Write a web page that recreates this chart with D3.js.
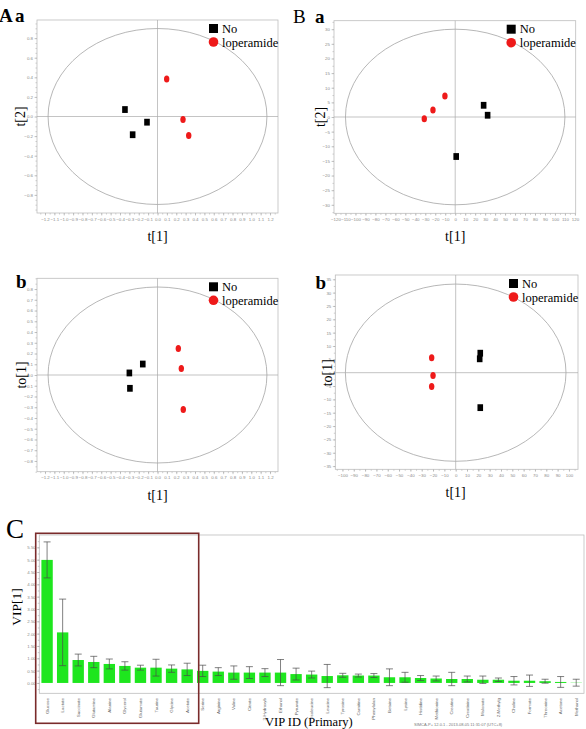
<!DOCTYPE html>
<html>
<head>
<meta charset="utf-8">
<script src="https://cdn.jsdelivr.net/npm/d3@7"></script>
<style>
  body { margin: 0; background: #fff; }
  svg { display: block; }
</style>
</head>
<body>
<svg id="fig" width="586" height="729"></svg>
<script>
// score plot points, [t1, t2] per sample
const aaNo = [[-0.347, 0.071], [-0.265, -0.186], [-0.112, -0.058]];
const aaLop = [[0.098, 0.383], [0.272, -0.030], [0.333, -0.193]];
const abNo = [[-0.300, 0.019], [-0.294, -0.124], [-0.157, 0.102]];
const abLop = [[0.222, 0.247], [0.254, 0.061], [0.275, -0.322]];
const baNo = [[28.5, 4.0], [32.5, 0.6], [1.0, -13.5]];
const baLop = [[-31.0, -0.6], [-22.3, 2.4], [-10.3, 7.2]];
const bbNo = [[21.7, 7.3], [21.2, 5.2], [21.7, -13.1]];
const bbLop = [[-21.2, 5.6], [-20.0, -1.1], [-21.2, -5.2]];

const groups = ["No", "loperamide"];

// VIP plot
const metabolites = ["Glucose", "Lactate", "Succinate", "Glutamine", "Alanine", "Glycerol",
    "Glutamate", "Taurine", "Glycine", "Acetate", "Serine", "Arginine", "Valine", "Citrate",
    "3-Hydroxyb", "Ethanol", "Pyruvate", "Isoleucine", "Leucine", "Tyrosine", "Carnitine",
    "Phenylalan", "Betaine", "Lysine", "Histidine", "Methionine", "Creatine", "Creatinine",
    "Malonate", "2-Methylg", "Choline", "Formate", "Threonine", "Acetone", "Methanol"];
const vipValues = [4.99, 2.05, 0.93, 0.85, 0.77, 0.69, 0.62, 0.62, 0.58, 0.55, 0.49, 0.46,
    0.42, 0.42, 0.42, 0.42, 0.36, 0.34, 0.28, 0.31, 0.30, 0.30, 0.23, 0.23, 0.20, 0.18,
    0.16, 0.16, 0.13, 0.13, 0.09, 0.09, 0.07, 0.04, 0.01];
const vipErrors = [0.73, 1.35, 0.24, 0.23, 0.20, 0.17, 0.10, 0.34, 0.15, 0.25, 0.23, 0.16,
    0.27, 0.24, 0.16, 0.53, 0.24, 0.14, 0.47, 0.08, 0.06, 0.08, 0.34, 0.20, 0.10, 0.10,
    0.27, 0.12, 0.15, 0.07, 0.17, 0.23, 0.08, 0.22, 0.14];
const vipTicks = [0, 0.5, 1, 1.5, 2, 2.5, 3, 3.5, 4, 4.5, 5, 5.5];

const svg = d3.select("#fig");
const serif = "'Liberation Serif', 'Times New Roman', serif";
const sans = "'Liberation Sans', Arial, sans-serif";
const red = "#ee1a1a";

const panels = [
    { letter: "A", sub: "a", letterBold: true, lx: -1, ax: 15, ly: 22,
      left: 37, right: 278, top: 20, bottom: 213,
      xDomain: [-1.285, 1.285], yDomain: [-0.985, 0.985], ellipse: [1.167, 0.898],
      xTicks: d3.range(-12, 13).map(v => v / 10), xFmt: d3.format(".1f"), xMinor: 0.05,
      yTicks: d3.range(-8, 9, 2).map(v => v / 10), yFmt: d3.format(".1f"), yMinor: 0.05,
      no: aaNo, lop: aaLop, xTitle: "t[1]", yTitle: "t[2]", yTitleX: 20 },
    { letter: "B", sub: "a", letterBold: false, lx: 293, ax: 315, ly: 23,
      left: 334, right: 575.7, top: 20.7, bottom: 213.3,
      xDomain: [-121.5, 120.8], yDomain: [-32.9, 32.9], ellipse: [110, 30],
      xTicks: d3.range(-120, 121, 10), xFmt: d3.format("d"), xMinor: 5,
      yTicks: d3.range(-30, 31, 5), yFmt: d3.format("d"), yMinor: 2.5,
      no: baNo, lop: baLop, xTitle: "t[1]", yTitle: "t[2]", yTitleX: 320 },
    { letter: null, sub: "b", lx: 0, ax: 16, ly: 288,
      left: 37, right: 278, top: 278.3, bottom: 471.7,
      xDomain: [-1.285, 1.285], yDomain: [-0.9, 0.9], ellipse: [1.167, 0.819],
      xTicks: d3.range(-12, 13).map(v => v / 10), xFmt: d3.format(".1f"), xMinor: 0.05,
      yTicks: d3.range(-8, 9).map(v => v / 10), yFmt: d3.format(".1f"), yMinor: 0.05,
      no: abNo, lop: abLop, xTitle: "t[1]", yTitle: "to[1]", yTitleX: 21 },
    { letter: null, sub: "b", lx: 0, ax: 315.5, ly: 289,
      left: 335.3, right: 578, top: 275, bottom: 469.3,
      xDomain: [-106.3, 108], yDomain: [-36.2, 36.6], ellipse: [97.4, 33.2],
      xTicks: d3.range(-100, 101, 10), xFmt: d3.format("d"), xMinor: 5,
      yTicks: d3.range(-35, 36, 5), yFmt: d3.format("d"), yMinor: 2.5,
      no: bbNo, lop: bbLop, xTitle: "t[1]", yTitle: "to[1]", yTitleX: 327 }
];

const styleAxis = (sel) => {
    sel.select(".domain").remove();
    sel.selectAll(".tick line").attr("stroke", "#9a9a9a").attr("stroke-width", 0.5);
    sel.selectAll(".tick text")
        .attr("fill", "#8a8a8a")
        .style("font-family", sans)
        .style("font-size", "4.4px");
};

const drawScatter = (p) => {
    const g = svg.append("g");
    const x = d3.scaleLinear().domain(p.xDomain).range([p.left, p.right]);
    const y = d3.scaleLinear().domain(p.yDomain).range([p.bottom, p.top]);

    // minor ticks first, then labelled ticks
    const xMinorVals = d3.range(Math.ceil(p.xDomain[0] / p.xMinor), Math.floor(p.xDomain[1] / p.xMinor) + 1)
        .map(k => k * p.xMinor);
    const yMinorVals = d3.range(Math.ceil(p.yDomain[0] / p.yMinor), Math.floor(p.yDomain[1] / p.yMinor) + 1)
        .map(k => k * p.yMinor);

    g.append("g").attr("transform", `translate(0,${p.bottom})`)
        .call(d3.axisBottom(x).tickValues(xMinorVals).tickFormat("").tickSize(1.5).tickSizeOuter(0))
        .call(styleAxis);
    g.append("g").attr("transform", `translate(${p.left},0)`)
        .call(d3.axisLeft(y).tickValues(yMinorVals).tickFormat("").tickSize(1.5).tickSizeOuter(0))
        .call(styleAxis);

    g.append("g").attr("transform", `translate(0,${p.bottom})`)
        .call(d3.axisBottom(x).tickValues(p.xTicks).tickFormat(p.xFmt).tickSize(2.5).tickPadding(2).tickSizeOuter(0))
        .call(styleAxis);
    g.append("g").attr("transform", `translate(${p.left},0)`)
        .call(d3.axisLeft(y).tickValues(p.yTicks).tickFormat(p.yFmt).tickSize(2.5).tickPadding(1.5).tickSizeOuter(0))
        .call(styleAxis);

    g.append("rect")
        .attr("x", p.left).attr("y", p.top)
        .attr("width", p.right - p.left).attr("height", p.bottom - p.top)
        .attr("fill", "none").attr("stroke", "#bdbdbd").attr("stroke-width", 0.8);

    g.append("line")
        .attr("x1", x(0)).attr("x2", x(0)).attr("y1", p.top).attr("y2", p.bottom)
        .attr("stroke", "#aaa").attr("stroke-width", 0.7);
    g.append("line")
        .attr("x1", p.left).attr("x2", p.right).attr("y1", y(0)).attr("y2", y(0))
        .attr("stroke", "#aaa").attr("stroke-width", 0.7);

    g.append("ellipse")
        .attr("cx", x(0)).attr("cy", y(0))
        .attr("rx", x(p.ellipse[0]) - x(0)).attr("ry", y(0) - y(p.ellipse[1]))
        .attr("fill", "none").attr("stroke", "#a4a4a4").attr("stroke-width", 0.8);

    g.selectAll(".no").data(p.no).join("rect")
        .attr("class", "no")
        .attr("x", d => x(d[0]) - 2.8).attr("y", d => y(d[1]) - 3.4)
        .attr("width", 5.6).attr("height", 6.8)
        .attr("fill", "#000");
    g.selectAll(".lop").data(p.lop).join("ellipse")
        .attr("class", "lop")
        .attr("cx", d => x(d[0])).attr("cy", d => y(d[1]))
        .attr("rx", 2.7).attr("ry", 3.5)
        .attr("fill", red);

    // legend
    const lgx = p.right - 69;
    g.append("rect").attr("x", lgx).attr("y", p.top + 4).attr("width", 9).attr("height", 9).attr("fill", "#000");
    g.append("circle").attr("cx", lgx + 4.5).attr("cy", p.top + 22).attr("r", 4.8).attr("fill", red);
    g.selectAll(".lg").data(groups).join("text")
        .attr("class", "lg")
        .attr("x", lgx + 13)
        .attr("y", (d, i) => p.top + 12.5 + i * 14)
        .style("font-family", serif).style("font-size", "12.5px")
        .text(d => d);

    // titles
    g.append("text")
        .attr("x", x(0)).attr("y", p.bottom + 28)
        .attr("text-anchor", "middle")
        .style("font-family", serif).style("font-size", "14px")
        .text(p.xTitle);
    g.append("text")
        .attr("transform", `translate(${p.yTitleX + 4.5},${y(0)}) rotate(-90)`)
        .attr("text-anchor", "middle")
        .style("font-family", serif).style("font-size", "14px")
        .text(p.yTitle);

    if (p.letter) {
        g.append("text")
            .attr("x", p.lx).attr("y", p.ly)
            .style("font-family", serif).style("font-size", "19px")
            .style("font-weight", p.letterBold ? "bold" : "normal")
            .text(p.letter);
    }
    g.append("text")
        .attr("x", p.ax).attr("y", p.ly)
        .style("font-family", serif).style("font-size", "19px").style("font-weight", "bold")
        .text(p.sub);
};

panels.forEach(drawScatter);

// ---- C: VIP bar chart ----
const vip = { left: 39.3, right: 584, top: 535, bottom: 693.3 };
const xb = d3.scaleBand().domain(metabolites).range([vip.left, vip.right])
    .paddingInner(0.27).paddingOuter(0.135);
const yb = d3.scaleLinear().domain([-0.42, 6.0]).range([vip.bottom, vip.top]);

const gc = svg.append("g");
gc.append("rect")
    .attr("x", vip.left).attr("y", vip.top)
    .attr("width", vip.right - vip.left).attr("height", vip.bottom - vip.top)
    .attr("fill", "none").attr("stroke", "#bdbdbd").attr("stroke-width", 0.8);

gc.append("g").attr("transform", `translate(${vip.left},0)`)
    .call(d3.axisLeft(yb).tickValues(d3.range(-0.25, 5.9, 0.25)).tickFormat("").tickSize(1.5).tickSizeOuter(0))
    .call(styleAxis);
gc.append("g").attr("transform", `translate(${vip.left},0)`)
    .call(d3.axisLeft(yb).tickValues(vipTicks).tickFormat(d3.format(".2f")).tickSize(2.5).tickPadding(1).tickSizeOuter(0))
    .call(styleAxis);

gc.selectAll(".bar").data(metabolites).join("rect")
    .attr("class", "bar")
    .attr("x", d => xb(d))
    .attr("y", (d, i) => yb(vipValues[i]))
    .attr("width", xb.bandwidth())
    .attr("height", (d, i) => yb(0) - yb(vipValues[i]))
    .attr("fill", "#1ee61e");

const errG = gc.selectAll(".err").data(metabolites).join("g").attr("class", "err")
    .attr("stroke", "#4a4a4a").attr("stroke-width", 0.7);
errG.append("line")
    .attr("x1", d => xb(d) + xb.bandwidth() / 2).attr("x2", d => xb(d) + xb.bandwidth() / 2)
    .attr("y1", (d, i) => yb(vipValues[i] - vipErrors[i]))
    .attr("y2", (d, i) => yb(vipValues[i] + vipErrors[i]));
[-1, 1].forEach(s => {
    errG.append("line")
        .attr("x1", d => xb(d) + xb.bandwidth() / 2 - 3.5).attr("x2", d => xb(d) + xb.bandwidth() / 2 + 3.5)
        .attr("y1", (d, i) => yb(vipValues[i] + s * vipErrors[i]))
        .attr("y2", (d, i) => yb(vipValues[i] + s * vipErrors[i]));
});

gc.selectAll(".cat").data(metabolites).join("text")
    .attr("class", "cat")
    .attr("transform", d => `translate(${xb(d) + xb.bandwidth() / 2 + 1.5},698) rotate(-90)`)
    .attr("text-anchor", "end")
    .attr("fill", "#666")
    .style("font-family", sans).style("font-size", "4.4px")
    .text(d => d);

gc.append("rect")
    .attr("x", 35.7).attr("y", 533.3)
    .attr("width", 163).attr("height", 190)
    .attr("fill", "none").attr("stroke", "#7a2b2b").attr("stroke-width", 1.6);

gc.append("text")
    .attr("transform", `translate(21,607) rotate(-90)`)
    .attr("text-anchor", "middle")
    .style("font-family", serif).style("font-size", "13.5px")
    .text("VIP[1]");
gc.append("text")
    .attr("x", 265).attr("y", 725.5)
    .style("font-family", serif).style("font-size", "12.5px")
    .text("VIP ID (Primary)");
gc.append("text")
    .attr("x", 414).attr("y", 726)
    .attr("fill", "#777")
    .style("font-family", sans).style("font-size", "4px")
    .text("SIMCA-P+ 12.0.1 - 2013-08-05 11:31:07 (UTC+8)");
gc.append("text")
    .attr("x", 6).attr("y", 538)
    .style("font-family", serif).style("font-size", "27px")
    .text("C");
</script>
</body>
</html>
